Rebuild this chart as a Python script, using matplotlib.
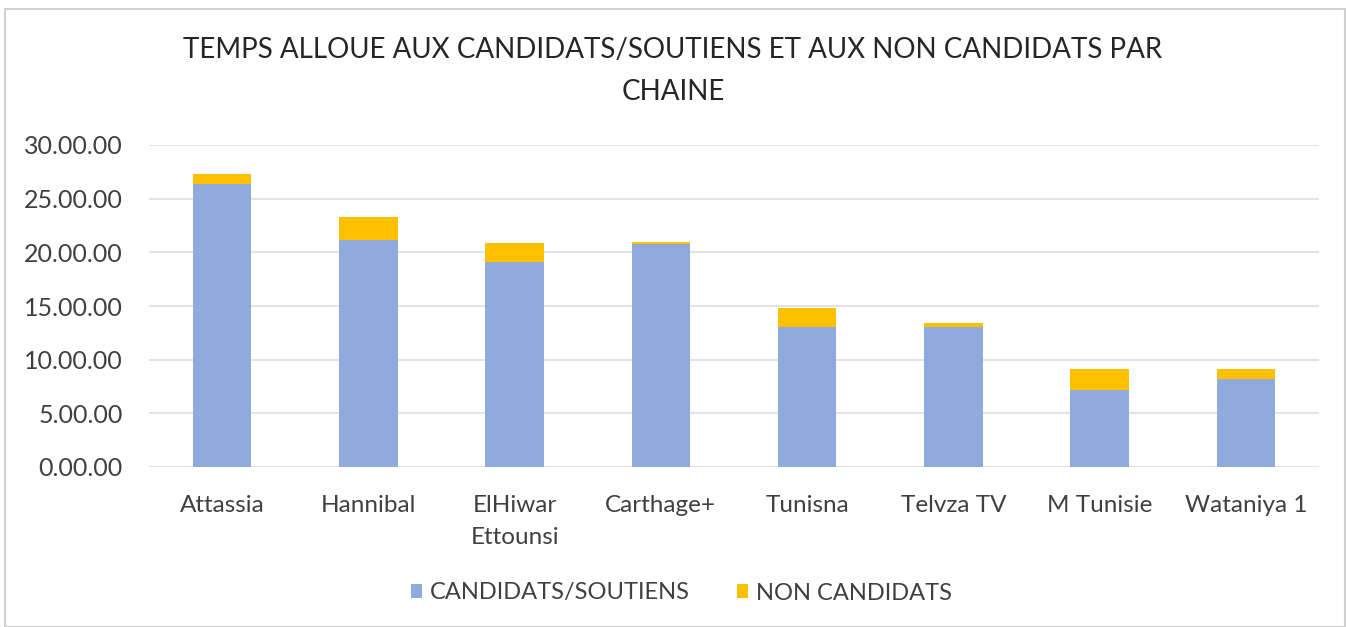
import matplotlib
matplotlib.use("Agg")
import matplotlib.pyplot as plt
from matplotlib.patches import Rectangle
from matplotlib.ticker import FuncFormatter, MultipleLocator

plt.rcParams["font.family"] = ["Lato", "DejaVu Sans"]

channels = ["Attassia", "Hannibal", "ElHiwar\nEttounsi", "Carthage+", "Tunisna",
            "Telvza TV", "M Tunisie", "Wataniya 1"]
candidats = [26.4, 21.15, 19.1, 20.75, 13.05, 13.05, 7.15, 8.2]
non_candidats = [0.9, 2.15, 1.8, 0.2, 1.8, 0.4, 2.0, 0.95]

blue = "#8FAADC"
gold = "#FFC000"

fig = plt.figure(figsize=(13.46, 6.27), dpi=100)
fig.patch.set_facecolor("white")
fig.patches.append(Rectangle((5 / 1346, 0), 1340 / 1346, 1 - 9 / 627,
                             transform=fig.transFigure, fill=False,
                             edgecolor="#D0D0D0", linewidth=1.5))

ax = fig.add_axes([149 / 1346, 1 - 467 / 627, 1170 / 1346, 322 / 627])
x = range(len(channels))
ax.bar(x, candidats, width=0.4, color=blue, label="CANDIDATS/SOUTIENS", zorder=3)
ax.bar(x, non_candidats, width=0.4, bottom=candidats, color=gold,
       label="NON CANDIDATS", zorder=3)

ax.set_xlim(-0.5, len(channels) - 0.5)
ax.set_ylim(0, 30)
ax.yaxis.set_major_locator(MultipleLocator(5))
ax.yaxis.set_major_formatter(FuncFormatter(lambda v, p: f"{v:.2f}.00"))
ax.set_xticks(list(x))
ax.set_xticklabels(channels, fontsize=17.5, color="#404040", linespacing=1.65)
ax.tick_params(axis="y", labelsize=18, colors="#404040", length=0, pad=19)
ax.tick_params(axis="x", length=0, pad=20)
ax.grid(axis="y", color="#E3E3E3", linewidth=1.5, zorder=0)
for s in ax.spines.values():
    s.set_visible(False)

fig.text(0.5, 1 - 50 / 627, "TEMPS ALLOUE AUX CANDIDATS/SOUTIENS ET AUX NON CANDIDATS PAR",
         ha="center", va="center", fontsize=20, color="#262626")
fig.text(0.5, 1 - 92 / 627, "CHAINE", ha="center", va="center", fontsize=20, color="#262626")

fig.legend(loc="center", bbox_to_anchor=(681 / 1346, 1 - 593 / 627), ncol=2, frameon=False,
           fontsize=17, labelcolor="#404040", handlelength=0.5, handleheight=0.5,
           handletextpad=0.3, columnspacing=2.0)

fig.savefig("out.png", dpi=100)
